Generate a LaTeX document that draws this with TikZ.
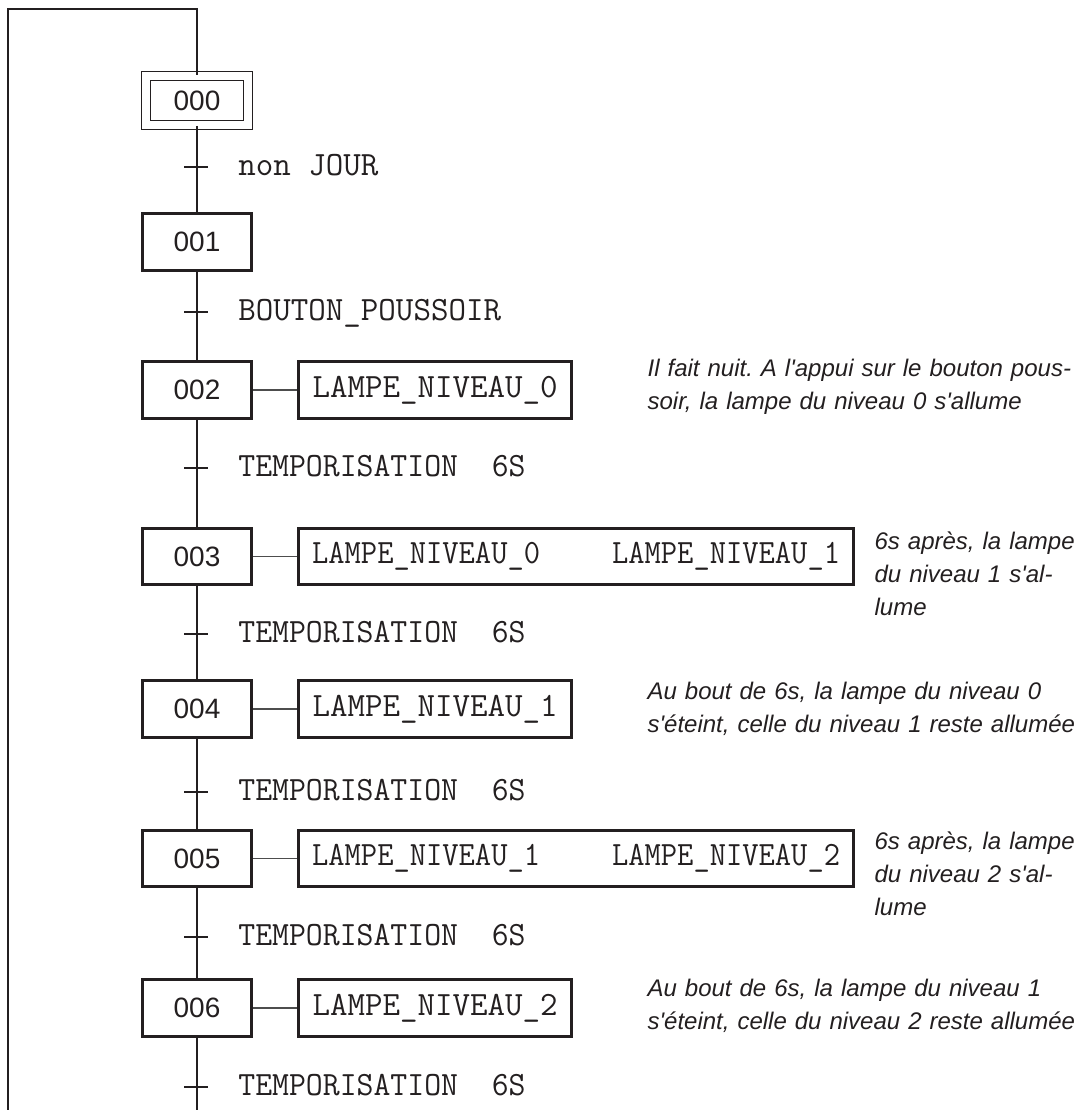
\documentclass[tikz,border=0pt]{standalone}
\usepackage{fontspec}
\setmainfont{Liberation Sans}[Ligatures=TeXOff]
\usepackage{graphicx}
\usetikzlibrary{positioning}
\definecolor{grInk}{HTML}{231F20}
\definecolor{grThin}{HTML}{4D4D4D}
\frenchspacing
\newcommand{\narrowtt}[1]{\scalebox{0.93}[1]{#1}}
\newcommand{\tempo}{\scalebox{0.965}[1]{TEMPORISATION~~6S}}
\newcommand{\commline}[1]{\makebox[\linewidth][s]{#1}}
\tikzset{
  link/.style      = {grInk, line width=1.45pt},
  trtick/.style    = {grInk, line width=1.45pt},
  stepbox/.style   = {draw=grInk, line width=1.45pt, minimum width=54.6pt,
                      minimum height=28.1pt, inner sep=0pt,
                      font=\fontsize{14}{16}\selectfont, text=grInk},
  initstep/.style  = {draw=grInk, line width=0.6pt, double, double distance=3.8pt,
                      minimum width=50.9pt, minimum height=24.7pt, inner sep=0pt,
                      font=\fontsize{14}{16}\selectfont, text=grInk},
  actbox/.style    = {draw=grInk, line width=1.45pt, minimum width=136.6pt,
                      minimum height=28.1pt, inner sep=0pt,
                      font=\ttfamily\fontsize{17}{19}\selectfont, text=grInk},
  widebox/.style   = {minimum width=277.6pt},
  actlink/.style   = {grThin, line width=0.55pt},
  trlabel/.style   = {anchor=base west, inner sep=0pt,
                      font=\ttfamily\fontsize{17}{19}\selectfont, text=grInk},
  remark/.style    = {anchor=north east, inner sep=0pt, align=left,
                      font=\itshape\fontsize{12}{16.5}\selectfont, text=grInk},
}

\begin{document}
\begin{tikzpicture}[x=0.5pt, y=-0.5pt]
  \useasboundingbox (0,0) rectangle (1083,1110);

  % steps
  \node[initstep] (s000) at (197,100.5) {000};
  \foreach \nn/\yy in {001/242, 002/390, 003/556.5, 004/709, 005/858.5, 006/1008}
    \node[stepbox] (s\nn) at (197,\yy) {\nn};

  % main line and loop back to the initial step
  \coordinate (topR) at (197,9);
  \coordinate (topL) at (8,9);
  \coordinate (botL) at (8,1110);
  \coordinate (botR) at (197,1110);
  \draw[link] (botL) -- (topL) -- (topR) -- (s000);
  \draw[link] (s000) -- (s001) -- (s002) -- (s003) -- (s004) -- (s005) -- (s006);
  \draw[link] (s006) -- (botR);

  % transitions
  \foreach \tn/\yy/\txt in {t0/167/non JOUR, t1/312/BOUTON\_POUSSOIR,
      t2/468/\tempo, t3/634/\tempo, t4/792/\tempo, t5/937/\tempo, t6/1087/\tempo} {
    \coordinate (\tn) at (196,\yy);
    \draw[trtick] (\tn) +(-12,0) -- +(12,0);
    \node[trlabel] (\tn-lbl) at (238,{\yy+8}) {\txt};
  }

  % actions
  \node[actbox, right=22pt of s002] (a002) {LAMPE\_NIVEAU\_0};
  \node[actbox, widebox, right=22pt of s003] (a003)
    {\narrowtt{LAMPE\_NIVEAU\_0}\hspace{36pt}\narrowtt{LAMPE\_NIVEAU\_1}};
  \node[actbox, right=22pt of s004] (a004) {LAMPE\_NIVEAU\_1};
  \node[actbox, widebox, right=22pt of s005] (a005)
    {\narrowtt{LAMPE\_NIVEAU\_1}\hspace{36pt}\narrowtt{LAMPE\_NIVEAU\_2}};
  \node[actbox, right=22pt of s006] (a006) {LAMPE\_NIVEAU\_2};
  \foreach \nn in {002,003,004,005,006}
    \draw[actlink] (s\nn) -- (a\nn);

  % comments
  \node[remark, text width=208.5pt] (c002) at (1065,359)
    {\commline{Il fait nuit. A l'appui sur le bouton pous-}\\
     soir, la lampe du niveau 0 s'allume};
  \node[remark, text width=95pt] (c003) at (1065,531)
    {\commline{6s après, la lampe}\\\commline{du niveau 1 s'al-}\\lume};
  \node[remark, text width=208.5pt] (c004) at (1065,682)
    {\commline{Au bout de 6s, la lampe du niveau 0}\\
     \commline{s'éteint, celle du niveau 1 reste allumée}};
  \node[remark, text width=95pt] (c005) at (1065,831)
    {\commline{6s après, la lampe}\\\commline{du niveau 2 s'al-}\\lume};
  \node[remark, text width=208.5pt] (c006) at (1065,979)
    {\commline{Au bout de 6s, la lampe du niveau 1}\\
     \commline{s'éteint, celle du niveau 2 reste allumée}};
\end{tikzpicture}
\end{document}
